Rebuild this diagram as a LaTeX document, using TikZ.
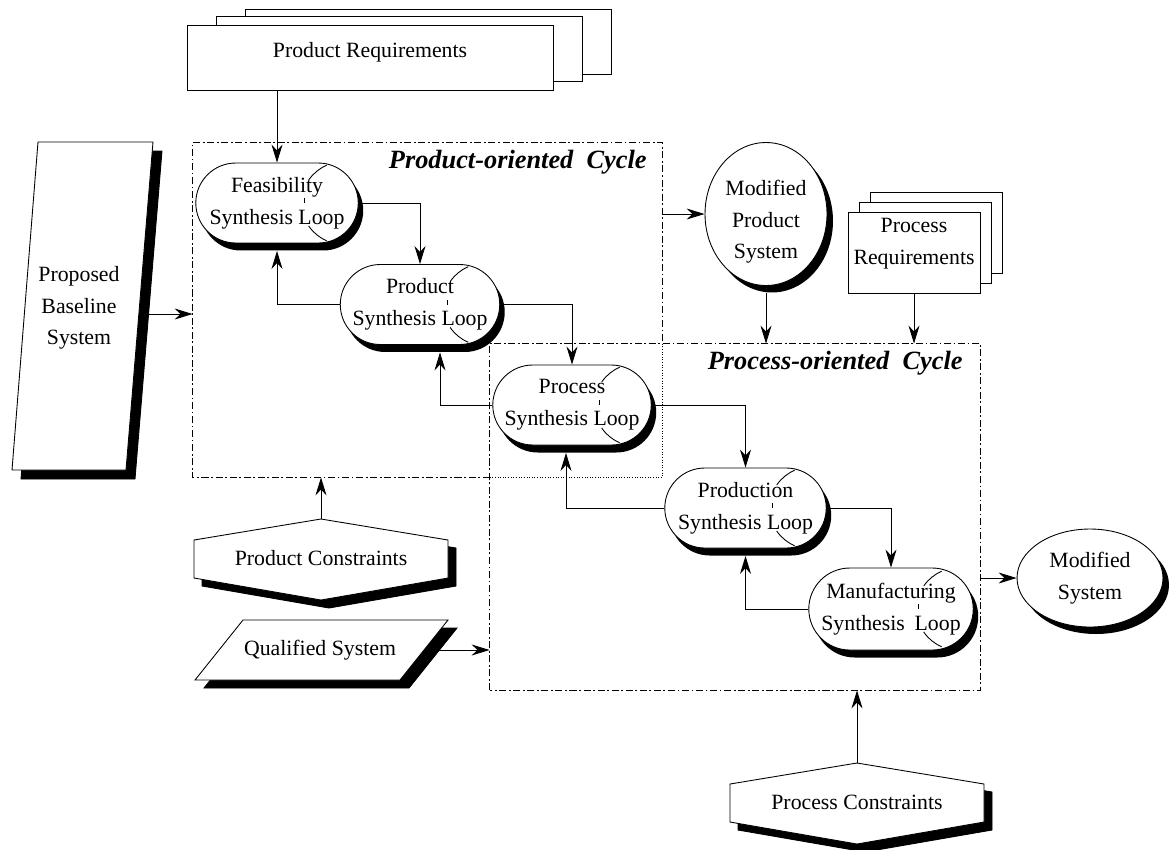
\documentclass[tikz,border=0pt]{standalone}
\usepackage{fontspec}
\setmainfont{Liberation Serif}
\usepackage{tikz}
\usetikzlibrary{shapes.geometric,shapes.misc,arrows.meta,positioning,calc,shadows}

\begin{document}
\begin{tikzpicture}[
  x=0.02cm, y=-0.02cm, line width=0.5pt,
  every node/.style={font=\fontsize{12.4}{18}\selectfont},
  synloop/.style={draw, rounded rectangle, fill=white, align=center, minimum width=3.3cm, minimum height=1.6cm, inner sep=1pt, drop shadow={shadow xshift=0.1cm, shadow yshift=-0.15cm, opacity=1, fill=black}},
  reqs/.style={draw, fill=white, align=center, inner sep=1pt},
  sysell/.style={draw, ellipse, fill=white, align=center, inner sep=0pt, drop shadow={shadow xshift=0.12cm, shadow yshift=-0.14cm, opacity=1, fill=black}},
  cycbox/.style={inner sep=0pt},
  cycline/.style={dash pattern=on 4pt off 1.5pt on 1pt off 1.5pt},
  ttl/.style={font=\fontsize{15}{18}\selectfont\bfseries\itshape, anchor=east, inner sep=0pt},
  arr/.style={-{Stealth[length=3.6mm, width=2.2mm]}},
  lbl/.style={align=center}
]
\useasboundingbox (0,0) rectangle (1172,849);

% cycles
\node[cycbox, minimum width=9.38cm, minimum height=6.68cm] (pcyc) at (427.5,310) {};
\node[cycbox, minimum width=9.8cm, minimum height=6.92cm] (prcyc) at (735,517) {};
\draw[cycline] (prcyc.west |- pcyc.south) -- (pcyc.south west) -- (pcyc.north west) -- (pcyc.north east) -- (pcyc.east |- prcyc.north);
\draw[densely dotted] (pcyc.east |- prcyc.north) -- (pcyc.south east) -- (prcyc.west |- pcyc.south);
\draw[cycline] (prcyc.south west) rectangle (prcyc.north east);
\node[ttl] (pttl) at (647,162) {Product-oriented\ \ Cycle};
\node[ttl] (prttl) at (963,363) {Process-oriented\ \ Cycle};

% requirements
\node[reqs, minimum width=7.32cm, minimum height=1.3cm] (preq3) at (428,41.5) {};
\node[reqs, minimum width=7.32cm, minimum height=1.3cm] (preq2) at (399,48.5) {};
\node[reqs, minimum width=7.32cm, minimum height=1.3cm, text depth=0.3cm] (preq) at (370,57.5) {Product Requirements};
\node[reqs, minimum width=2.64cm, minimum height=1.62cm] (procreq3) at (936,232.5) {};
\node[reqs, minimum width=2.64cm, minimum height=1.62cm] (procreq2) at (925,242.5) {};
\node[reqs, minimum width=2.64cm, minimum height=1.62cm, text depth=0.45cm] (procreq) at (914,252.5) {Process\\Requirements};

% inputs
\draw[fill=black, shift={(9,9)}] (38,142) -- (153,142) -- (126,470) -- (12,470) -- cycle;
\draw[fill=white] (38,142) -- (153,142) -- (126,470) -- (12,470) -- cycle;
\node[lbl] (pbs) at (79,308) {Proposed\\Baseline\\System};
\coordinate (pbsOut) at (147,314);

\draw[fill=black, shift={(9,8)}] (243,620) -- (448,620) -- (400,680) -- (195,680) -- cycle;
\draw[fill=white] (243,620) -- (448,620) -- (400,680) -- (195,680) -- cycle;
\node (qsys) at (320,650) {Qualified System};
\coordinate (qsOut) at (437,650);

\foreach \cx/\cy in {321/559, 857/803} {
  \draw[fill=black, shift={(8,8)}] ({\cx},{\cy-40}) -- ({\cx+127},{\cy-19}) -- ({\cx+127},{\cy+19}) -- ({\cx},{\cy+41}) -- ({\cx-127},{\cy+19}) -- ({\cx-127},{\cy-19}) -- cycle;
  \draw[fill=white] ({\cx},{\cy-40}) -- ({\cx+127},{\cy-19}) -- ({\cx+127},{\cy+19}) -- ({\cx},{\cy+41}) -- ({\cx-127},{\cy+19}) -- ({\cx-127},{\cy-19}) -- cycle;
}
\node (pcon) at (321,558) {Product Constraints};
\node (prcon) at (857,802) {Process Constraints};
\coordinate (pconTop) at (321,519);
\coordinate (prconTop) at (857,763);

% synthesis loops
\node[synloop, minimum width=3.32cm] (feas) at (277,203) {Feasibility\\Synthesis Loop};
\node[synloop, minimum width=3.26cm] (prod) at (420,304.5) {Product\\Synthesis Loop};
\node[synloop, minimum width=3.24cm] (proc) at (572,405) {Process\\Synthesis Loop};
\node[synloop] (prodn) at (745.5,508) {Production\\Synthesis Loop};
\node[synloop, minimum width=3.36cm, minimum height=1.64cm] (manu) at (891,609) {Manufacturing\\Synthesis\hspace{0.45em}Loop};
\foreach \n in {feas,prod,proc,prodn,manu} {
  \draw ([xshift=-0.32cm]\n.east) ++(113:0.82cm) arc[start angle=113, end angle=146, radius=0.82cm];
  \draw ([xshift=-0.32cm]\n.east) ++(214:0.82cm) arc[start angle=214, end angle=247, radius=0.82cm];
  \draw ([xshift=0.54cm, yshift=0.1cm]\n.center) -- ++(0,-0.1cm);
}

% outputs
\node[sysell, minimum width=2.44cm, minimum height=2.86cm, label={[lbl, yshift=-0.16cm]center:Modified\\Product\\System}] (mps) at (766,214) {};
\node[sysell, minimum width=2.92cm, minimum height=1.96cm] (msys) at (1090,578) {Modified\\System};

% connectors
\draw[arr] (preq.south -| feas.north) -- (feas.north);
\draw[arr] (pbsOut) -- (pbsOut -| pcyc.west);
\draw[arr] (feas.east) -| (prod.north);
\draw[arr] (prod.west) -| ([yshift=-0.15cm]feas.south);
\draw[arr] (prod.east) -| (proc.north);
\draw[arr] (proc.west) -| ([xshift=0.4cm, yshift=-0.15cm]prod.south);
\draw[arr] (proc.east) -| (prodn.north);
\draw[arr] (prodn.west) -| ([xshift=-0.12cm, yshift=-0.15cm]proc.south);
\draw[arr] (prodn.east) -| (manu.north);
\draw[arr] (manu.west) -| ([yshift=-0.15cm]prodn.south);
\draw[arr] (pcyc.east |- mps.west) -- (mps.west);
\draw[arr] ([yshift=-0.14cm]mps.south) -- (mps.south |- prcyc.north);
\draw[arr] (procreq.south) -- (procreq.south |- prcyc.north);
\draw[arr] (prcyc.east |- msys.west) -- (msys.west);
\draw[arr] (pconTop) -- (pconTop |- pcyc.south);
\draw[arr] (prconTop) -- (prconTop |- prcyc.south);
\draw[arr] (qsOut) -- (qsOut -| prcyc.west);

\end{tikzpicture}
\end{document}
